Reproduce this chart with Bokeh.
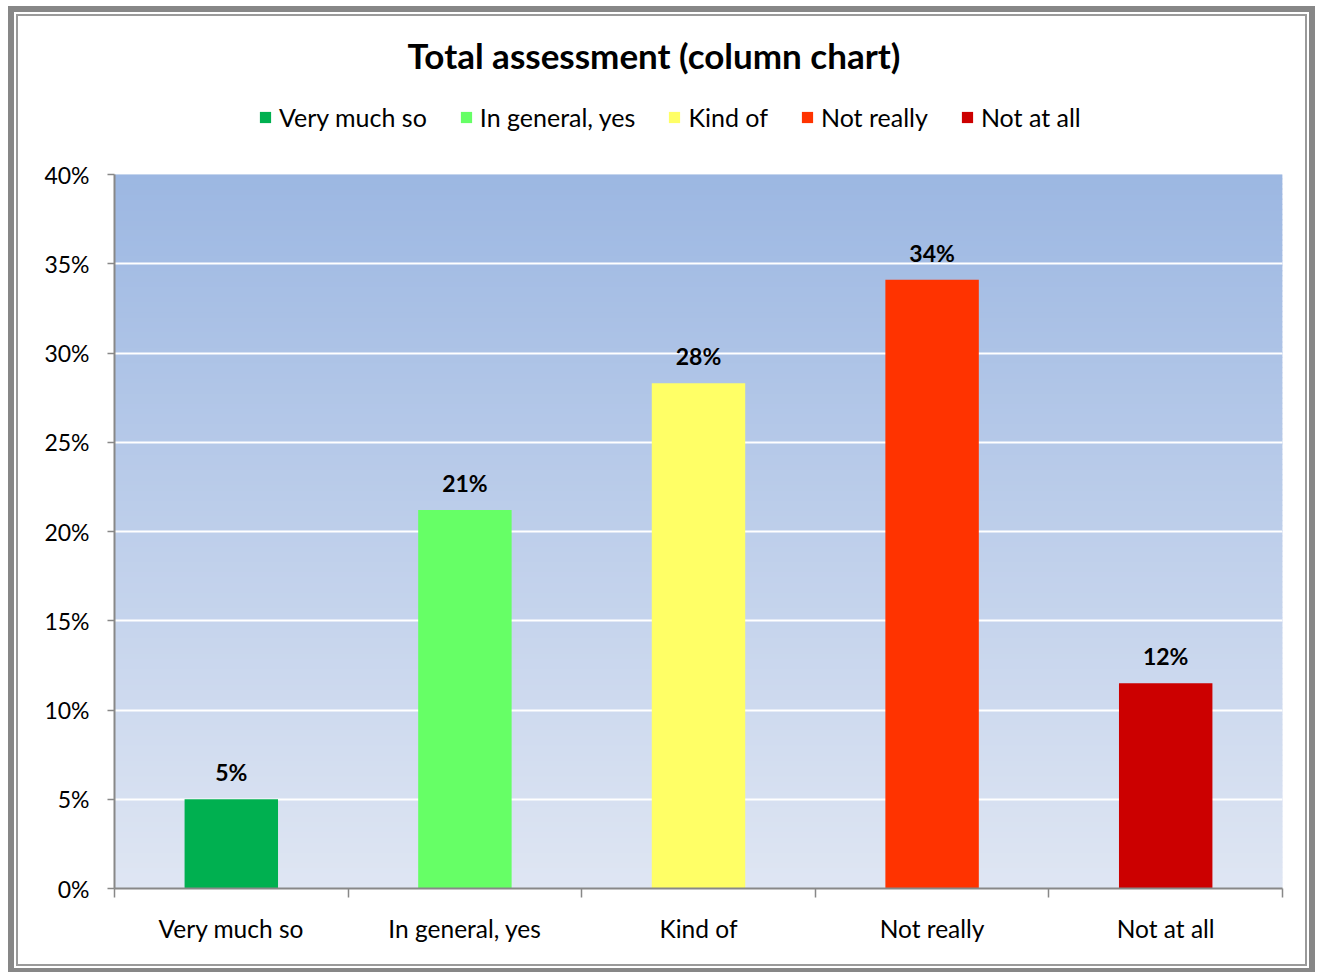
import numpy as np
from bokeh.plotting import figure
from bokeh.layouts import column
from bokeh.models import (ColumnDataSource, FixedTicker, Legend, LegendItem,
                          BoxAnnotation, Range1d, Label)
from bokeh.embed import file_html
from bokeh.resources import INLINE
from bokeh.core.properties import value

# ---- data ----
categories = ["Very much so", "In general, yes", "Kind of", "Not really", "Not at all"]
shares = [0.050, 0.212, 0.283, 0.341, 0.115]
bar_labels = ["5%", "21%", "28%", "34%", "12%"]
colors = ["#00B050", "#66FF66", "#FFFF66", "#FF3300", "#CC0000"]
y_ticks = [0.0, 0.05, 0.10, 0.15, 0.20, 0.25, 0.30, 0.35, 0.40]
y_tick_labels = ["0%", "5%", "10%", "15%", "20%", "25%", "30%", "35%", "40%"]
title_text = "Total assessment (column chart)"

FONT = "Lato"
AXIS_GRAY = "#888888"
W = 1287
HH = 138          # header (title + legend) height
HM = 810          # main chart height
FW = 1168         # frame width (header frame is aligned with the main frame)

xpos = [i + 0.5 for i in range(len(categories))]
src = ColumnDataSource(dict(x=xpos, top=shares, color=colors, cat=categories, label=bar_labels))

# ---------------- header: title + legend ----------------
hdr = figure(width=W, height=HH, x_range=Range1d(0, FW), y_range=Range1d(1, 1 + HH),
             output_backend="svg", toolbar_location=None,
             x_axis_type=None, y_axis_type=None,
             min_border=0, min_border_left=0, min_border_right=0,
             min_border_top=0, min_border_bottom=0,
             background_fill_color="white", border_fill_color="white")
hdr.outline_line_color = None
hdr.grid.visible = False
hdr_bars = hdr.vbar(x="x", top="top", width=0.4, fill_color="color", line_color=None, source=src)
hdr.add_layout(Label(x=539.5, y=1 + HH - 38, text=title_text, text_font=FONT,
                     text_font_size="35px", text_font_style="bold", text_color="black",
                     text_align="center", text_baseline="middle"))
items = [LegendItem(label=categories[i], renderers=[hdr_bars], index=i) for i in range(len(categories))]
legend = Legend(items=items, orientation="horizontal", location=(144, 22),
                label_text_font=FONT, label_text_font_size="25px", label_text_color="black",
                glyph_width=14, glyph_height=14, spacing=32, label_standoff=7,
                background_fill_alpha=0, border_line_color=None, padding=0, margin=0)
hdr.add_layout(legend)

# ---------------- main chart ----------------
p = figure(width=W, height=HM,
           x_range=Range1d(0, len(categories)), y_range=Range1d(0, 0.40),
           output_backend="svg", toolbar_location=None,
           min_border_left=96, min_border_right=23, min_border_bottom=76, min_border_top=20,
           background_fill_color="#DFE6F3", border_fill_color="white")
p.outline_line_color = None

# gradient background
n_bands = 140
edges = np.linspace(0, 0.40, n_bands + 1)
top_c = np.array([156, 183, 226])
bot_c = np.array([223, 230, 243])
for i in range(n_bands):
    t = (i + 0.5) / n_bands
    c = (bot_c + (top_c - bot_c) * t).round().astype(int)
    col = "#%02x%02x%02x" % tuple(c)
    p.add_layout(BoxAnnotation(bottom=edges[i], top=edges[i + 1] + 0.0008, fill_color=col,
                               fill_alpha=1.0, line_color=None, level="image"))

p.vbar(x="x", top="top", width=0.4, fill_color="color", line_color=None, source=src)

p.text(x="x", y="top", text="label", source=src, text_font=value(FONT), text_font_style="bold",
       text_font_size="23px", text_align="center", text_baseline="bottom", y_offset=-13,
       text_color="black")

# axes
p.xaxis.ticker = FixedTicker(ticks=xpos, minor_ticks=list(range(len(categories) + 1)))
p.xaxis.major_label_overrides = {xpos[i]: categories[i] for i in range(len(categories))}
p.xaxis.major_tick_line_color = None
p.xaxis.minor_tick_line_color = AXIS_GRAY
p.xaxis.minor_tick_line_width = 1.5
p.xaxis.minor_tick_in = 0
p.xaxis.minor_tick_out = 9
p.xaxis.axis_line_color = AXIS_GRAY
p.xaxis.axis_line_width = 2
p.xaxis.major_label_standoff = 16
p.xaxis.major_label_text_font = FONT
p.xaxis.major_label_text_font_size = "24.5px"
p.xaxis.major_label_text_color = "black"

p.yaxis.ticker = FixedTicker(ticks=y_ticks)
p.yaxis.major_label_overrides = {y_ticks[i]: y_tick_labels[i] for i in range(len(y_ticks))}
p.yaxis.minor_tick_line_color = None
p.yaxis.major_tick_line_color = AXIS_GRAY
p.yaxis.major_tick_line_width = 1.5
p.yaxis.major_tick_in = 0
p.yaxis.major_tick_out = 7
p.yaxis.axis_line_color = AXIS_GRAY
p.yaxis.axis_line_width = 2
p.yaxis.major_label_standoff = 18
p.yaxis.major_label_text_font = FONT
p.yaxis.major_label_text_font_size = "23px"
p.yaxis.major_label_text_color = "black"

p.xgrid.grid_line_color = None
p.ygrid.ticker = FixedTicker(ticks=y_ticks)
p.ygrid.grid_line_color = "white"
p.ygrid.grid_line_width = 2

layout = column(hdr, p, spacing=0)
layout.styles = {"margin-left": "16px", "margin-top": "14px",
                 "border": "2px solid #9A9A9A",
                 "outline": "6px solid #878787", "outline-offset": "2px",
                 "background-color": "white"}

open("out.html", "w").write(file_html(layout, INLINE))
